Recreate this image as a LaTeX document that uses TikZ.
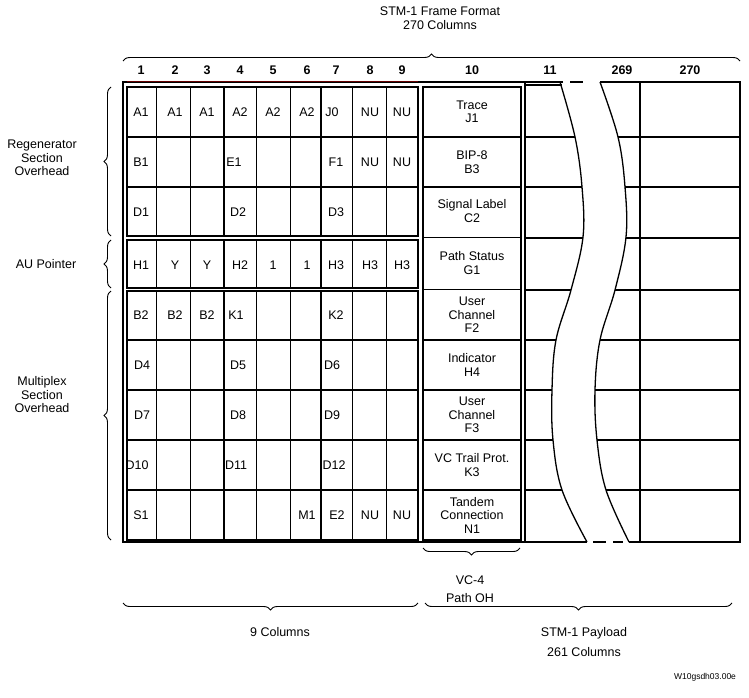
\documentclass[tikz,border=0pt]{standalone}
\usepackage{fontspec}
\setmainfont{Liberation Sans}
\usetikzlibrary{decorations.pathreplacing}
\begin{document}
\begin{tikzpicture}[x=1pt,y=-1pt,
  thk/.style={line width=1.3pt},
  thn/.style={line width=0.5pt},
  lbl/.style={font=\fontsize{12.5}{13.5}\selectfont,inner sep=0pt,align=center},
  brc/.style={decorate,decoration={brace,amplitude=7pt},line width=0.9pt}]
\useasboundingbox (0,0) rectangle (749,698);
% outer frame
\draw[thk] (563,82) -- (123,82) -- (123,542) -- (587,542);
\draw[thk] (629,542) -- (740,542) -- (740,82) -- (600,82);
\draw[thk] (570,82) -- (583,82);
\draw[thk] (593,542) -- (606,542) (613,542) -- (623,542);
\draw[line width=1pt,red!40!black] (127,82) -- (418,82);
% overhead boxes
\draw[thk] (127,87) rectangle (418,236);
\draw[thk] (127,240) rectangle (418,288);
\draw[thk] (127,291) rectangle (418,540);
\draw[thk] (423,87) rectangle (521,540);
\foreach \x in {224,321} \draw[thk] (\x,87) -- (\x,236) (\x,240) -- (\x,288) (\x,291) -- (\x,540);
\foreach \x in {156,190,256,290,352,386} \draw[thn] (\x,87) -- (\x,236) (\x,240) -- (\x,288) (\x,291) -- (\x,540);
\foreach \y in {137,187,340,390,440,490} \draw[thk] (127,\y) -- (418,\y) (423,\y) -- (521,\y);
\draw[thk] (423,237.5) -- (521,237.5) (423,289.5) -- (521,289.5);
% payload
\draw[thk] (525,82) -- (525,542);
\draw[thk] (640,82) -- (640,542);
\draw[thk] plot[smooth,tension=0.6] coordinates {(560,82) (575,137) (582,187) (583,237) (571,290) (556,340) (552,390) (553,440) (562,490) (587,542)};
\draw[thk] plot[smooth,tension=0.6] coordinates {(600,82) (618,137) (625,187) (626,237) (615,290) (600,340) (595,390) (597,440) (606,490) (629,542)};
\draw[thk] (525,85) -- (562,85);
\foreach \y/\a/\b in {137/575/618,187/582/625,238/583/626,290/571/615,340/556/600,390/552/595,440/553/597,490/562/606}
  \draw[thk] (525,\y) -- (\a,\y) (\b,\y) -- (740,\y);
% header
\node[lbl] (title) at (440,18) {STM-1 Frame Format\\270 Columns};
\draw[brc] (123,61) -- (740,61);
\foreach \t/\x [count=\i] in {1/141,2/175,3/207,4/240,5/273,6/307,7/336,8/370,9/402,10/472,11/550,269/622,270/690}
  \node[lbl,font=\fontsize{12.5}{13}\selectfont\bfseries] (h\i) at (\x,70) {\t};
% cells
\foreach \t/\x/\y [count=\i] in {
 A1/141/112,A1/175/112,A1/207/112,A2/240/112,A2/273/112,A2/307/112,J0/332/112,NU/370/112,NU/402/112,
 B1/141/162,E1/234/162,F1/336/162,NU/370/162,NU/402/162,
 D1/141/212,D2/238/212,D3/336/212,
 H1/141/265,Y/175/265,Y/207/265,H2/240/265,1/273/265,1/307/265,H3/336/265,H3/370/265,H3/402/265,
 B2/141/315,B2/175/315,B2/207/315,K1/236/315,K2/336/315,
 D4/142/365,D5/238/365,D6/332/365,
 D7/142/415,D8/238/415,D9/332/415,
 D10/137/465,D11/236/465,D12/334/465,
 S1/141/515,M1/307/515,E2/337/515,NU/370/515,NU/402/515}
  \node[lbl] (c\i) at (\x,\y) {\t};
\foreach \t/\y [count=\i] in {Trace\\J1/112,BIP-8\\B3/162,Signal Label\\C2/211,Path Status\\G1/263,User\\Channel\\F2/315,Indicator\\H4/365,User\\Channel\\F3/415,VC Trail Prot.\\K3/465,Tandem\\Connection\\N1/515}
  \node[lbl] (p\i) at (472,\y) {\t};
% left braces
\draw[brc] (111,236) -- (111,87);
\draw[brc] (111,288) -- (111,240);
\draw[brc] (111,540) -- (111,291);
\node[lbl] (rsoh) at (42,158) {Regenerator\\Section\\Overhead};
\node[lbl] (au) at (46,264) {AU Pointer};
\node[lbl] (msoh) at (42,395) {Multiplex\\Section\\Overhead};
% bottom braces
\draw[brc] (520,548) -- (423,548);
\node[lbl] (vc4) at (470,589) {VC-4\\[5pt]Path OH};
\draw[brc] (418,603) -- (123,603);
\node[lbl] (nine) at (280,632) {9 Columns};
\draw[brc] (732,603) -- (425,603);
\node[lbl] (pay) at (584,642) {STM-1 Payload\\[6pt]261 Columns};
\node[lbl,font=\fontsize{8.5}{9}\selectfont] (ref) at (705,677) {W10gsdh03.00e};
\end{tikzpicture}
\end{document}
